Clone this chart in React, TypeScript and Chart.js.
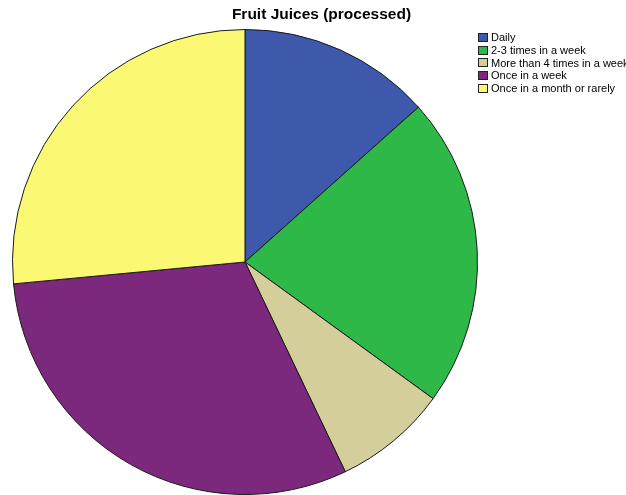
import React, { useEffect, useRef } from "react";
import { Chart, registerables } from "chart.js";

Chart.register(...registerables);

// Share of respondents by how often they drink processed fruit juices (%)
const categories = [
  "Daily",
  "2-3 times in a week",
  "More than 4 times in a week",
  "Once in a week",
  "Once in a month or rarely",
];
const shares = [13.4, 21.6, 7.9, 30.6, 26.5];
const sliceColors = ["#3E58AC", "#2EB848", "#D4CE9A", "#7C287C", "#FBF873"];
const chartTitle = "Fruit Juices (processed)";

export default function App() {
  const canvasRef = useRef<HTMLCanvasElement | null>(null);

  useEffect(() => {
    document.body.style.margin = "0";
    const canvas = canvasRef.current;
    if (!canvas) return;
    const chart = new Chart(canvas, {
      type: "pie",
      data: {
        labels: categories,
        datasets: [
          {
            data: shares,
            backgroundColor: sliceColors,
            borderColor: "#1a1a1a",
            borderWidth: 1,
          },
        ],
      },
      options: {
        responsive: false,
        animation: false,
        layout: { padding: { left: 12, right: 148, top: 29, bottom: 0 } },
        plugins: {
          legend: { display: false },
          title: { display: false },
          tooltip: { enabled: false },
        },
      },
    });
    return () => chart.destroy();
  }, []);

  return (
    <div
      style={{
        position: "relative",
        width: 626,
        height: 495,
        overflow: "hidden",
        background: "#fff",
        fontFamily: "'Liberation Sans', Arial, sans-serif",
      }}
    >
      <canvas ref={canvasRef} width={626} height={495} style={{ display: "block" }} />
      <div
        style={{
          position: "absolute",
          left: 0,
          width: 643,
          top: 5,
          textAlign: "center",
          fontWeight: "bold",
          fontSize: 15.5,
          color: "#000",
          lineHeight: "18px",
        }}
      >
        {chartTitle}
      </div>
      <div style={{ position: "absolute", left: 478, top: 31 }}>
        {categories.map((c, i) => (
          <div
            key={c}
            style={{
              display: "flex",
              alignItems: "center",
              height: 12.7,
              fontSize: 11,
              whiteSpace: "nowrap",
              color: "#000",
            }}
          >
            <span
              style={{
                display: "inline-block",
                width: 10,
                height: 9,
                background: sliceColors[i],
                border: "1px solid #222",
                marginRight: 3,
                boxSizing: "border-box",
              }}
            />
            <span>{c}</span>
          </div>
        ))}
      </div>
    </div>
  );
}
